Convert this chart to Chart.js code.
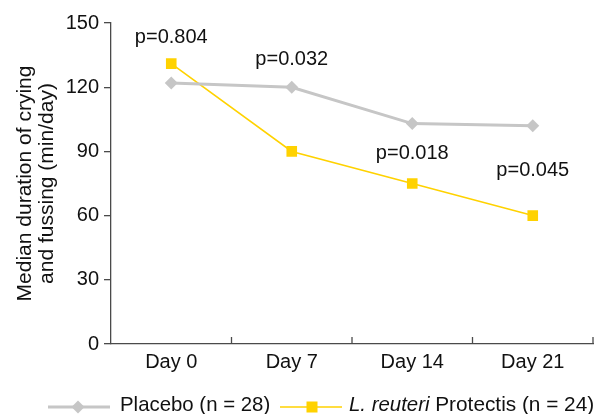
<!DOCTYPE html>
<html>
<head>
<meta charset="utf-8">
<script src="https://cdn.jsdelivr.net/npm/chart.js@4"></script>
<style>
html,body{margin:0;padding:0;background:#fff;}
#wrap{width:602px;height:414px;}
</style>
</head>
<body>
<div id="wrap"><canvas id="c" width="602" height="414"></canvas></div>
<script>
const categories = ['Day 0', 'Day 7', 'Day 14', 'Day 21'];
const placebo = [122, 120, 103, 102];
const reuteri = [131, 90, 75, 60];
const pValues = ['p=0.804', 'p=0.032', 'p=0.018', 'p=0.045'];
const pLabelAt = [143, 133, 89, 81];
const yTicks = [0, 30, 60, 90, 120, 150];

const FONT = '"Liberation Sans", Arial, sans-serif';
const AXIS = '#4a4a4a';
const GRAY = '#c6c6c6';
const GOLD = '#ffd200';
const FS = 20;

const pLabelPlugin = {
  id: 'pLabels',
  afterDatasetsDraw(chart) {
    const {ctx, scales: {x, y}} = chart;
    ctx.save();
    ctx.font = FS + 'px ' + FONT;
    ctx.fillStyle = '#111';
    ctx.textAlign = 'center';
    ctx.textBaseline = 'middle';
    pValues.forEach((t, i) => {
      ctx.fillText(t, x.getPixelForValue(i), y.getPixelForValue(pLabelAt[i]));
    });
    ctx.restore();
  }
};

const xTickPlugin = {
  id: 'xInTicks',
  afterDraw(chart) {
    const {ctx, scales: {x}} = chart;
    const yb = x.top;
    ctx.save();
    ctx.strokeStyle = AXIS;
    ctx.lineWidth = 1.3;
    for (let i = 0; i < categories.length; i++) {
      const px = i < categories.length - 1
        ? (x.getPixelForValue(i) + x.getPixelForValue(i + 1)) / 2
        : x.right;
      ctx.beginPath();
      ctx.moveTo(px, yb);
      ctx.lineTo(px, yb - 7);
      ctx.stroke();
    }
    ctx.restore();
  }
};

const legendPlugin = {
  id: 'customLegend',
  afterDraw(chart) {
    const ctx = chart.ctx;
    const yy = 407;
    const base = 410.5;
    ctx.save();
    ctx.textBaseline = 'alphabetic';
    // placebo
    ctx.strokeStyle = GRAY; ctx.lineWidth = 3;
    ctx.beginPath(); ctx.moveTo(48, yy); ctx.lineTo(110, yy); ctx.stroke();
    ctx.fillStyle = GRAY;
    ctx.beginPath();
    const dx = 78;
    ctx.moveTo(dx, yy - 6.5); ctx.lineTo(dx + 6.5, yy); ctx.lineTo(dx, yy + 6.5); ctx.lineTo(dx - 6.5, yy); ctx.closePath(); ctx.fill();
    ctx.fillStyle = '#111';
    ctx.font = '20.4px ' + FONT;
    ctx.fillText('Placebo (n = 28)', 120, base);
    // reuteri
    ctx.strokeStyle = GOLD; ctx.lineWidth = 1.6;
    ctx.beginPath(); ctx.moveTo(280, yy); ctx.lineTo(342, yy); ctx.stroke();
    ctx.fillStyle = GOLD;
    ctx.fillRect(312 - 5.5, yy - 5.5, 11, 11);
    ctx.fillStyle = '#111';
    ctx.font = 'italic 20.4px ' + FONT;
    const ita = 'L. reuteri';
    ctx.fillText(ita, 349, base);
    const w = ctx.measureText(ita).width;
    ctx.font = '20.8px ' + FONT;
    ctx.fillText(' Protectis (n = 24)', 349 + w, base);
    ctx.restore();
  }
};

new Chart(document.getElementById('c'), {
  type: 'line',
  data: {
    labels: categories,
    datasets: [
      {
        label: 'Placebo (n = 28)',
        data: placebo,
        borderColor: GRAY,
        backgroundColor: GRAY,
        borderWidth: 3,
        pointStyle: 'rectRot',
        pointRadius: 6.5,
        pointHoverRadius: 6.5,
        pointBorderWidth: 0,
        tension: 0
      },
      {
        label: 'L. reuteri Protectis (n = 24)',
        data: reuteri,
        borderColor: GOLD,
        backgroundColor: GOLD,
        borderWidth: 1.6,
        pointStyle: 'rect',
        pointRadius: 7.5,
        pointHoverRadius: 7.5,
        pointBorderWidth: 0,
        tension: 0
      }
    ]
  },
  options: {
    responsive: false,
    animation: false,
    devicePixelRatio: 1,
    layout: {padding: {top: 23, right: 9, left: 0, bottom: 0}},
    plugins: {legend: {display: false}, tooltip: {enabled: false}},
    scales: {
      x: {
        offset: true,
        grid: {display: true, drawOnChartArea: false, drawTicks: false, color: 'transparent'},
        border: {display: true, color: AXIS, width: 1.3},
        ticks: {color: '#111', font: {family: FONT, size: FS}, padding: 6},
        afterFit(s) { s.height = 70; }
      },
      y: {
        min: 0, max: 150,
        afterBuildTicks(s) { s.ticks = yTicks.map(v => ({value: v})); },
        grid: {drawOnChartArea: false, drawTicks: true, tickLength: 7, color: AXIS, lineWidth: 1.3},
        border: {display: true, color: AXIS, width: 1.3},
        ticks: {color: '#111', font: {family: FONT, size: FS}, padding: 5},
        title: {
          display: true,
          text: ['Median duration of crying', 'and fussing (min/day)'],
          color: '#111',
          font: {family: FONT, size: 21, lineHeight: 1.05},
          padding: {top: 14, bottom: 0}
        },
        afterFit(s) { s.width = 111; }
      }
    }
  },
  plugins: [pLabelPlugin, xTickPlugin, legendPlugin]
});
</script>
</body>
</html>
